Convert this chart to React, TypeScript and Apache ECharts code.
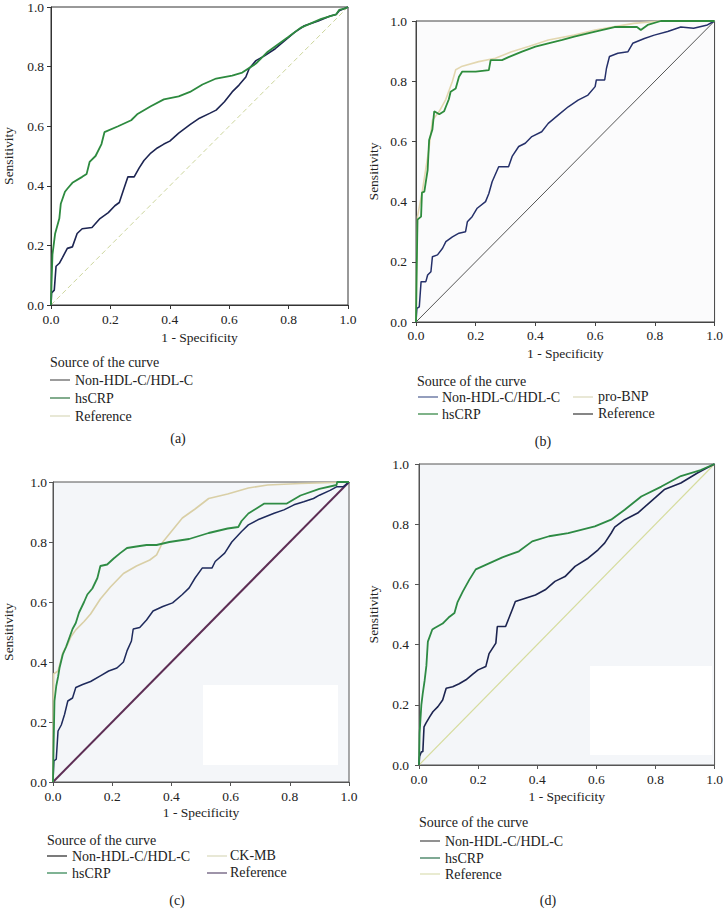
import React, { useEffect, useRef } from "react";
import * as echarts from "echarts";

type P = [number, number];

const xAxisTitle = "1 - Specificity";
const yAxisTitle = "Sensitivity";
const legendTitle = "Source of the curve";
const panelLabels = ["(a)", "(b)", "(c)", "(d)"];

const namesA = ["Non-HDL-C/HDL-C", "hsCRP", "Reference"];
const namesB = ["Non-HDL-C/HDL-C", "hsCRP", "pro-BNP", "Reference"];
const namesC = ["Non-HDL-C/HDL-C", "hsCRP", "CK-MB", "Reference"];
const namesD = ["Non-HDL-C/HDL-C", "hsCRP", "Reference"];

const diagonal: P[] = [[0, 0], [1, 1]];

const aNonHdl: P[] = [[0,0],[0.002,0.04],[0.011,0.05],[0.017,0.13],[0.028,0.14],[0.039,0.16],[0.055,0.19],[0.072,0.195],[0.088,0.24],[0.105,0.256],[0.138,0.26],[0.165,0.29],[0.193,0.31],[0.215,0.333],[0.23,0.344],[0.242,0.38],[0.259,0.43],[0.28,0.43],[0.297,0.46],[0.313,0.485],[0.336,0.51],[0.358,0.527],[0.38,0.54],[0.4,0.55],[0.43,0.577],[0.468,0.605],[0.5,0.627],[0.534,0.643],[0.556,0.654],[0.584,0.682],[0.61,0.715],[0.633,0.738],[0.656,0.765],[0.667,0.793],[0.69,0.82],[0.72,0.837],[0.755,0.86],[0.787,0.887],[0.82,0.915],[0.853,0.937],[0.9,0.953],[0.94,0.97],[0.96,0.975],[0.97,0.987],[1,1]];
const aHsCrp: P[] = [[0,0],[0.002,0.08],[0.005,0.17],[0.014,0.24],[0.028,0.29],[0.033,0.34],[0.047,0.38],[0.055,0.39],[0.072,0.41],[0.105,0.43],[0.12,0.44],[0.13,0.48],[0.15,0.5],[0.17,0.54],[0.18,0.58],[0.226,0.6],[0.27,0.62],[0.29,0.64],[0.336,0.667],[0.38,0.69],[0.43,0.7],[0.468,0.715],[0.51,0.74],[0.556,0.76],[0.61,0.77],[0.644,0.78],[0.69,0.81],[0.73,0.85],[0.8,0.9],[0.84,0.93],[0.91,0.96],[0.96,0.975],[0.97,0.99],[0.99,0.995],[1,1]];

const bNonHdl: P[] = [[0,0],[0.003,0.045],[0.011,0.05],[0.017,0.134],[0.033,0.134],[0.039,0.156],[0.05,0.167],[0.055,0.217],[0.072,0.223],[0.089,0.245],[0.1,0.267],[0.122,0.283],[0.144,0.295],[0.166,0.3],[0.172,0.333],[0.188,0.35],[0.205,0.378],[0.233,0.4],[0.244,0.427],[0.255,0.466],[0.277,0.516],[0.31,0.516],[0.322,0.55],[0.344,0.583],[0.366,0.594],[0.388,0.616],[0.421,0.632],[0.443,0.66],[0.477,0.688],[0.51,0.715],[0.543,0.737],[0.576,0.754],[0.6,0.782],[0.604,0.804],[0.632,0.804],[0.638,0.843],[0.648,0.882],[0.676,0.893],[0.71,0.898],[0.726,0.926],[0.765,0.942],[0.798,0.953],[0.843,0.965],[0.887,0.98],[0.93,0.976],[0.976,0.987],[1,1]];
const bHsCrp: P[] = [[0,0],[0.002,0.15],[0.005,0.34],[0.017,0.35],[0.02,0.43],[0.028,0.433],[0.033,0.466],[0.039,0.505],[0.044,0.605],[0.055,0.64],[0.061,0.7],[0.078,0.69],[0.094,0.7],[0.1,0.715],[0.11,0.74],[0.116,0.765],[0.133,0.776],[0.144,0.815],[0.155,0.832],[0.2,0.832],[0.244,0.837],[0.25,0.87],[0.288,0.87],[0.31,0.88],[0.355,0.898],[0.4,0.915],[0.443,0.926],[0.49,0.937],[0.53,0.948],[0.6,0.965],[0.665,0.98],[0.74,0.98],[0.753,0.97],[0.776,0.987],[0.82,1],[1,1]];
const bProBnp: P[] = [[0,0],[0.002,0.16],[0.005,0.35],[0.022,0.44],[0.044,0.58],[0.055,0.67],[0.078,0.7],[0.1,0.74],[0.122,0.8],[0.133,0.838],[0.155,0.85],[0.21,0.865],[0.266,0.876],[0.32,0.898],[0.377,0.915],[0.443,0.937],[0.53,0.953],[0.6,0.97],[0.676,0.983],[0.73,0.992],[0.82,1],[1,1]];

const cNonHdl: P[] = [[0,0],[0.003,0.07],[0.011,0.076],[0.017,0.17],[0.028,0.19],[0.039,0.225],[0.05,0.27],[0.066,0.28],[0.077,0.315],[0.1,0.325],[0.127,0.335],[0.16,0.354],[0.188,0.37],[0.216,0.38],[0.238,0.4],[0.25,0.437],[0.265,0.47],[0.271,0.51],[0.293,0.515],[0.316,0.54],[0.338,0.57],[0.371,0.585],[0.404,0.597],[0.437,0.625],[0.46,0.647],[0.48,0.68],[0.504,0.713],[0.537,0.713],[0.548,0.735],[0.58,0.763],[0.604,0.8],[0.637,0.835],[0.66,0.857],[0.692,0.874],[0.747,0.896],[0.78,0.907],[0.814,0.924],[0.847,0.934],[0.88,0.945],[0.9,0.956],[0.936,0.972],[0.958,0.984],[0.98,0.984],[1,1]];
const cHsCrp: P[] = [[0,0],[0.002,0.12],[0.005,0.27],[0.011,0.32],[0.017,0.35],[0.022,0.38],[0.033,0.425],[0.044,0.45],[0.055,0.48],[0.066,0.51],[0.077,0.53],[0.088,0.565],[0.105,0.6],[0.116,0.625],[0.133,0.645],[0.15,0.68],[0.16,0.72],[0.183,0.725],[0.205,0.745],[0.227,0.763],[0.25,0.78],[0.282,0.785],[0.316,0.79],[0.35,0.79],[0.393,0.8],[0.46,0.81],[0.526,0.83],[0.59,0.845],[0.626,0.85],[0.637,0.87],[0.66,0.895],[0.714,0.928],[0.79,0.928],[0.836,0.955],[0.9,0.977],[0.958,0.99],[0.96,1],[1,1]];
const cCkMb: P[] = [[0,0],[0.002,0.36],[0.017,0.37],[0.028,0.41],[0.033,0.43],[0.05,0.46],[0.061,0.485],[0.077,0.507],[0.105,0.535],[0.127,0.56],[0.16,0.61],[0.194,0.65],[0.238,0.695],[0.282,0.72],[0.327,0.74],[0.35,0.757],[0.371,0.8],[0.404,0.84],[0.437,0.88],[0.48,0.91],[0.526,0.945],[0.59,0.96],[0.66,0.98],[0.725,0.99],[0.836,0.995],[1,1]];

const dNonHdl: P[] = [[0,0],[0.002,0.028],[0.008,0.044],[0.013,0.044],[0.017,0.127],[0.024,0.14],[0.036,0.16],[0.047,0.177],[0.064,0.194],[0.08,0.216],[0.092,0.255],[0.114,0.26],[0.136,0.27],[0.159,0.283],[0.18,0.3],[0.2,0.316],[0.226,0.327],[0.237,0.37],[0.26,0.405],[0.265,0.46],[0.293,0.46],[0.315,0.515],[0.326,0.543],[0.36,0.554],[0.394,0.565],[0.427,0.582],[0.46,0.61],[0.494,0.626],[0.528,0.66],[0.572,0.687],[0.606,0.715],[0.628,0.737],[0.65,0.77],[0.662,0.79],[0.696,0.815],[0.74,0.837],[0.785,0.876],[0.83,0.915],[0.886,0.937],[0.942,0.97],[0.975,0.987],[1,1]];
const dHsCrp: P[] = [[0,0],[0.002,0.105],[0.008,0.2],[0.013,0.24],[0.019,0.28],[0.025,0.33],[0.03,0.41],[0.045,0.45],[0.053,0.455],[0.08,0.47],[0.1,0.49],[0.12,0.505],[0.13,0.54],[0.148,0.576],[0.17,0.615],[0.192,0.65],[0.237,0.67],[0.282,0.69],[0.338,0.71],[0.383,0.743],[0.44,0.76],[0.505,0.77],[0.595,0.793],[0.65,0.815],[0.696,0.848],[0.752,0.892],[0.82,0.925],[0.886,0.96],[0.953,0.98],[1,1]];

const FONT = "'Liberation Serif', 'DejaVu Serif', serif";
const TXT = "#222";

const grids = [
  { left: 44, top: 4, width: 304, height: 301, bg: "#ffffff", border: "#333", xm: 7, xg: 25, ym: 7, yg: 36 },
  { left: 416, top: 21, width: 301, height: 301, bg: "#fbfbfc", border: "#444", xm: 6, xg: 24, ym: 9, yg: 36 },
  { left: 48, top: 482, width: 301, height: 300, bg: "#f4f6f9", border: "#555", xm: 7, xg: 23, ym: 6, yg: 38 },
  { left: 419, top: 464, width: 298, height: 301, bg: "#f4f6f9", border: "#555", xm: 7, xg: 24, ym: 10, yg: 39 },
];

function App() {
  const ref = useRef<HTMLDivElement>(null);
  useEffect(() => {
    if (!ref.current) return;
    const chart = echarts.init(ref.current, null, { renderer: "svg" });
    const fmt = (v: number) => v.toFixed(1);
    const xAxes = grids.map((g, i) => ({
      type: "value", gridIndex: i, min: 0, max: 1, interval: 0.2,
      name: xAxisTitle, nameLocation: "middle", nameGap: g.xg,
      nameTextStyle: { fontFamily: FONT, fontSize: 13.5, color: TXT },
      axisLine: { show: true, onZero: false, lineStyle: { color: g.border, width: 1 } },
      axisTick: { show: true, length: 4, lineStyle: { color: g.border } },
      axisLabel: { formatter: fmt, fontFamily: FONT, fontSize: 13.5, color: TXT, margin: g.xm },
      splitLine: { show: false },
    }));
    const yAxes = grids.map((g, i) => ({
      type: "value", gridIndex: i, min: 0, max: 1, interval: 0.2,
      name: yAxisTitle, nameLocation: "middle", nameGap: g.yg, nameRotate: 90,
      nameTextStyle: { fontFamily: FONT, fontSize: 13.5, color: TXT },
      axisLine: { show: true, onZero: false, lineStyle: { color: g.border, width: 1 } },
      axisTick: { show: true, length: 4, lineStyle: { color: g.border } },
      axisLabel: { formatter: fmt, fontFamily: FONT, fontSize: 13.5, color: TXT, margin: g.ym },
      splitLine: { show: false },
    }));
    const line = (gi: number, name: string, data: P[], color: string, width: number, type: any = "solid") => ({
      type: "line", name, xAxisIndex: gi, yAxisIndex: gi, data, showSymbol: false, symbol: "none",
      lineStyle: { color, width, type }, z: 3,
    });
    const series = [
      line(0, namesA[2], diagonal, "#ccd59c", 1, [5, 3]),
      line(0, namesA[0], aNonHdl, "#1d2552", 1.6),
      line(0, namesA[1], aHsCrp, "#2d8a3f", 1.8),
      line(1, namesB[3], diagonal, "#555555", 1),
      line(1, namesB[0], bNonHdl, "#25306a", 1.5),
      line(1, namesB[2], bProBnp, "#e3d7b0", 1.6),
      line(1, namesB[1], bHsCrp, "#2e8c3c", 1.8),
      line(2, namesC[3], diagonal, "#5d2e55", 2),
      line(2, namesC[0], cNonHdl, "#1e2a5c", 1.5),
      line(2, namesC[2], cCkMb, "#d9cfa6", 1.6),
      line(2, namesC[1], cHsCrp, "#2f8c45", 1.8),
      line(3, namesD[2], diagonal, "#d6dc9e", 1.2),
      line(3, namesD[0], dNonHdl, "#1c2450", 1.6),
      line(3, namesD[1], dHsCrp, "#2d8a44", 1.8),
    ];

    const g: any[] = [];
    const txt = (x: number, y: number, text: string, align = "left", size = 14) =>
      g.push({ type: "text", x, y, style: { text, fontFamily: FONT, fontSize: size, fill: TXT, align, verticalAlign: "middle" } });
    const lg = (x1: number, x2: number, y: number, stroke: string) =>
      g.push({ type: "line", shape: { x1, y1: y, x2, y2: y }, style: { stroke, lineWidth: 1.3 } });
    g.push({ type: "rect", shape: { x: 203, y: 685, width: 135, height: 80 }, style: { fill: "#ffffff" }, z: 1 });
    g.push({ type: "rect", shape: { x: 590, y: 666, width: 122, height: 89 }, style: { fill: "#ffffff" }, z: 1 });

    txt(50, 362, legendTitle);
    lg(50, 70, 380, "#666666"); txt(75, 380, namesA[0]);
    lg(50, 70, 398, "#3f7f4f"); txt(75, 398, namesA[1]);
    lg(50, 70, 416, "#dcdcc0"); txt(75, 416, namesA[2]);
    txt(178, 438, panelLabels[0], "center");

    txt(417, 381, legendTitle);
    lg(418, 438, 397, "#5a6a9a"); txt(442, 397, namesB[0]);
    lg(418, 438, 414, "#3a8a4a"); txt(442, 414, namesB[1]);
    lg(573, 593, 397, "#dedbc0"); txt(598, 396, namesB[2]);
    lg(573, 593, 414, "#444444"); txt(598, 413, namesB[3]);
    txt(543, 441, panelLabels[1], "center");

    txt(47, 840, legendTitle);
    lg(47, 67, 856, "#333333"); txt(72, 856, namesC[0]);
    lg(47, 67, 873, "#3a8a5a"); txt(72, 873, namesC[1]);
    lg(207, 227, 856, "#dcdcc0"); txt(230, 855, namesC[2]);
    lg(207, 227, 873, "#6a5a7a"); txt(230, 872, namesC[3]);
    txt(177, 900, panelLabels[2], "center");

    txt(419, 822, legendTitle);
    lg(420, 440, 841, "#555555"); txt(445, 841, namesD[0]);
    lg(420, 440, 858, "#3a7a5a"); txt(445, 858, namesD[1]);
    lg(420, 440, 874, "#dde0b8"); txt(445, 874, namesD[2]);
    txt(548, 900, panelLabels[3], "center");

    chart.setOption({
      animation: false,
      grid: grids.map((gr) => ({
        left: gr.left, top: gr.top, width: gr.width, height: gr.height, show: true,
        backgroundColor: gr.bg, borderColor: gr.border, borderWidth: 1, containLabel: false,
      })),
      xAxis: xAxes,
      yAxis: yAxes,
      series,
      graphic: g,
    } as any);
    return () => chart.dispose();
  }, []);
  return (
    <div ref={ref} style={{ position: "absolute", left: 0, top: 0, width: 726, height: 918, background: "#fff" }} />
  );
}

export default App;
